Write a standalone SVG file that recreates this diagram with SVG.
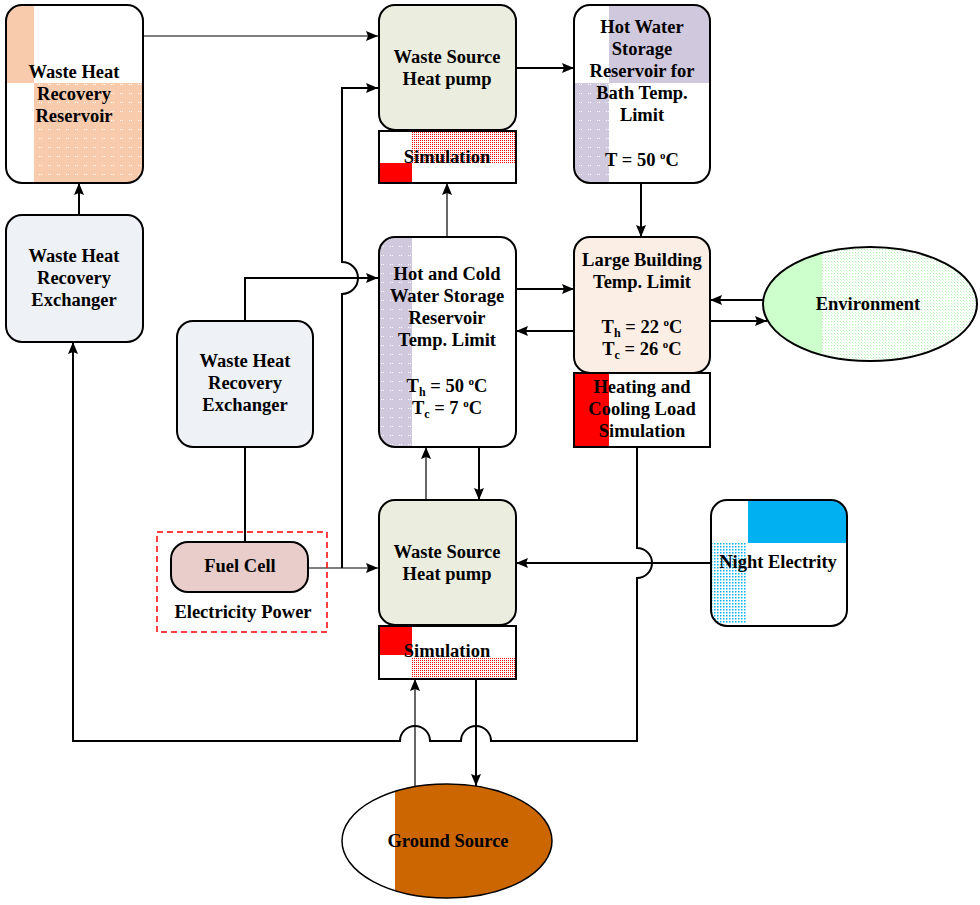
<svg xmlns="http://www.w3.org/2000/svg" width="980" height="905" viewBox="0 0 980 905">
<style>
text{font-family:"Liberation Serif","Times New Roman",serif;font-weight:bold;font-size:18.5px;fill:#000;text-anchor:middle}
.box{fill:none;stroke:#000;stroke-width:2}
.c{fill:none;stroke:#000;stroke-width:2}
.t{fill:none;stroke:#000;stroke-width:1.2}
</style>
<defs>
<marker id="ah" markerUnits="userSpaceOnUse" markerWidth="12" markerHeight="10" refX="12" refY="5" orient="auto"><path d="M0,0 L12,5 L0,10 L2,5 z" fill="#000"/></marker>
<pattern id="pdot" width="9" height="9" patternUnits="userSpaceOnUse"><rect width="9" height="9" fill="#F8CBAD"/><rect x="3" y="3" width="1" height="1" fill="#fff"/><rect x="5" y="3" width="1" height="1" fill="#fff"/></pattern>
<pattern id="ldot" width="9" height="9" patternUnits="userSpaceOnUse"><rect width="9" height="9" fill="#D0C8DC"/><rect x="3" y="3" width="1" height="1" fill="#fff"/><rect x="5" y="3" width="1" height="1" fill="#fff"/></pattern>
<pattern id="rdot" width="2" height="2" patternUnits="userSpaceOnUse"><rect width="2" height="2" fill="#fff"/><rect width="1" height="1" fill="#F00"/></pattern>
<pattern id="gdot" width="3" height="3" patternUnits="userSpaceOnUse"><rect width="3" height="3" fill="#fff"/><rect width="1" height="1" fill="#B8F0B8"/><rect x="1" y="1" width="1" height="1" fill="#D8FFD8"/></pattern>
<pattern id="bdot" width="3" height="3" patternUnits="userSpaceOnUse"><rect width="3" height="3" fill="#fff"/><rect width="1.5" height="1.5" fill="#00B0F0"/></pattern>
<clipPath id="cl1"><rect x="6" y="5" width="137" height="178" rx="16"/></clipPath>
<clipPath id="cl2"><rect x="574" y="5" width="136" height="178" rx="16"/></clipPath>
<clipPath id="cl3"><rect x="379" y="237" width="137" height="210" rx="16"/></clipPath>
<clipPath id="cl4"><rect x="711" y="500" width="136" height="126" rx="16"/></clipPath>
<clipPath id="cl5"><ellipse cx="870" cy="304" rx="107" ry="57"/></clipPath>
<clipPath id="cl6"><ellipse cx="447" cy="841" rx="105" ry="57"/></clipPath>
</defs>

<g id="connectors">
<path class="t" d="M143,36 H378" marker-end="url(#ah)"/>
<path class="c" d="M342,568 V294 A16,16 0 0 0 342,262 V88 H378" marker-end="url(#ah)"/>
<path class="c" d="M516,68 H574" marker-end="url(#ah)"/>
<path class="c" d="M641,183 V237" marker-end="url(#ah)"/>
<path class="t" d="M447,237 V183" marker-end="url(#ah)"/>
<path class="c" d="M245,321 V278 H378" marker-end="url(#ah)"/>
<path class="c" d="M245,542 V447"/>
<path class="t" d="M308,568 H378" marker-end="url(#ah)"/>
<path class="c" d="M516,289 H574" marker-end="url(#ah)"/>
<path class="c" d="M574,331 H516" marker-end="url(#ah)"/>
<path class="c" d="M763,300 H710" marker-end="url(#ah)"/>
<path class="c" d="M710,321 H767" marker-end="url(#ah)"/>
<path class="t" d="M426,500 V447" marker-end="url(#ah)"/>
<path class="c" d="M479,447 V500" marker-end="url(#ah)"/>
<path class="c" d="M711,563 H516" marker-end="url(#ah)"/>
<path class="c" d="M637,447 V548 A15,15 0 0 1 637,578 V741 H491 A15,15 0 0 0 461,741 H430 A15,15 0 0 0 400,741 H73 V342" marker-end="url(#ah)"/>
<path class="t" d="M415,787 V679" marker-end="url(#ah)"/>
<path class="c" d="M476,679 V786" marker-end="url(#ah)"/>
<path class="c" d="M79,215 V183" marker-end="url(#ah)"/>
</g>

<g id="reservoir">
<g clip-path="url(#cl1)">
<rect x="6" y="5" width="137" height="178" fill="#fff"/>
<rect x="6" y="5" width="28" height="78" fill="#F8CBAD"/>
<rect x="34" y="83" width="109" height="100" fill="url(#pdot)"/>
</g>
<rect class="box" x="6" y="5" width="137" height="178" rx="16"/>
<text x="74" y="78">Waste Heat</text>
<text x="74" y="100">Recovery</text>
<text x="74" y="122">Reservoir</text>
</g>

<g id="heatpump-top">
<rect x="379" y="5" width="137" height="125" rx="16" fill="#EBEEDE" stroke="#000" stroke-width="2"/>
<text x="447" y="63">Waste Source</text>
<text x="447" y="85">Heat pump</text>
</g>

<g id="sim-top">
<rect x="379" y="131" width="137" height="52" fill="#fff"/>
<rect x="412" y="131" width="104" height="32" fill="url(#rdot)"/>
<rect x="379" y="163" width="33" height="20" fill="#F00"/>
<rect class="box" x="379" y="131" width="137" height="52"/>
<text x="447" y="163">Simulation</text>
</g>

<g id="hotwater">
<g clip-path="url(#cl2)">
<rect x="574" y="5" width="136" height="178" fill="#fff"/>
<rect x="609" y="5" width="101" height="78" fill="#D0C8DC"/>
<rect x="574" y="83" width="35" height="100" fill="url(#ldot)"/>
</g>
<rect class="box" x="574" y="5" width="136" height="178" rx="16"/>
<text x="642" y="33">Hot Water</text>
<text x="642" y="55">Storage</text>
<text x="642" y="77">Reservoir for</text>
<text x="642" y="99">Bath Temp.</text>
<text x="642" y="121">Limit</text>
<text x="642" y="166">T = 50 <tspan font-size="11" dy="-7">o</tspan><tspan dy="7">C</tspan></text>
</g>

<g id="exchanger-left">
<rect x="6" y="215" width="137" height="127" rx="16" fill="#EEF1F6" stroke="#000" stroke-width="2"/>
<text x="74" y="262">Waste Heat</text>
<text x="74" y="284">Recovery</text>
<text x="74" y="306">Exchanger</text>
</g>

<g id="exchanger-mid">
<rect x="177" y="321" width="136" height="126" rx="16" fill="#EEF1F6" stroke="#000" stroke-width="2"/>
<text x="245" y="367">Waste Heat</text>
<text x="245" y="389">Recovery</text>
<text x="245" y="411">Exchanger</text>
</g>

<g id="hotcold">
<g clip-path="url(#cl3)">
<rect x="379" y="237" width="137" height="210" fill="#fff"/>
<rect x="379" y="237" width="33" height="210" fill="url(#ldot)"/>
</g>
<rect class="box" x="379" y="237" width="137" height="210" rx="16"/>
<text x="447" y="280">Hot and Cold</text>
<text x="447" y="302">Water Storage</text>
<text x="447" y="324">Reservoir</text>
<text x="447" y="346">Temp. Limit</text>
<text x="447" y="392">T<tspan font-size="12" dy="4">h</tspan><tspan dy="-4"> = 50 </tspan><tspan font-size="11" dy="-7">o</tspan><tspan dy="7">C</tspan></text>
<text x="447" y="414">T<tspan font-size="12" dy="4">c</tspan><tspan dy="-4"> = 7 </tspan><tspan font-size="11" dy="-7">o</tspan><tspan dy="7">C</tspan></text>
</g>

<g id="building">
<rect x="574" y="237" width="136" height="136" rx="16" fill="#FBEEE4" stroke="#000" stroke-width="2"/>
<text x="642" y="266">Large Building</text>
<text x="642" y="288">Temp. Limit</text>
<text x="642" y="333">T<tspan font-size="12" dy="4">h</tspan><tspan dy="-4"> = 22 </tspan><tspan font-size="11" dy="-7">o</tspan><tspan dy="7">C</tspan></text>
<text x="642" y="355">T<tspan font-size="12" dy="4">c</tspan><tspan dy="-4"> = 26 </tspan><tspan font-size="11" dy="-7">o</tspan><tspan dy="7">C</tspan></text>
</g>

<g id="load-sim">
<rect x="574" y="373" width="136" height="74" fill="#fff"/>
<rect x="574" y="373" width="35" height="74" fill="#F00"/>
<rect class="box" x="574" y="373" width="136" height="74"/>
<text x="642" y="393">Heating and</text>
<text x="642" y="415">Cooling Load</text>
<text x="642" y="437">Simulation</text>
</g>

<g id="environment">
<g clip-path="url(#cl5)">
<rect x="763" y="247" width="214" height="114" fill="url(#gdot)"/>
<rect x="763" y="247" width="59" height="114" fill="#CCFFCC"/>
</g>
<ellipse class="box" cx="870" cy="304" rx="107" ry="57"/>
<text x="868" y="310">Environment</text>
</g>

<g id="fuelcell">
<rect x="157" y="532" width="170" height="100" fill="none" stroke="#F00" stroke-width="1.5" stroke-dasharray="6,4"/>
<rect x="171" y="542" width="137" height="50" rx="17" fill="#E8CDCB" stroke="#000" stroke-width="2"/>
<text x="240" y="572">Fuel Cell</text>
<text x="243" y="618">Electricity Power</text>
</g>

<g id="heatpump-bottom">
<rect x="379" y="500" width="137" height="125" rx="16" fill="#EBEEDE" stroke="#000" stroke-width="2"/>
<text x="447" y="558">Waste Source</text>
<text x="447" y="580">Heat pump</text>
</g>

<g id="sim-bottom">
<rect x="379" y="626" width="137" height="53" fill="#fff"/>
<rect x="379" y="626" width="33" height="29" fill="#F00"/>
<rect x="412" y="657" width="104" height="22" fill="url(#rdot)"/>
<rect class="box" x="379" y="626" width="137" height="53"/>
<text x="447" y="657">Simulation</text>
</g>

<g id="night">
<g clip-path="url(#cl4)">
<rect x="711" y="500" width="136" height="126" fill="#fff"/>
<rect x="748" y="500" width="99" height="43" fill="#00B0F0"/>
<rect x="711" y="543" width="35" height="80" fill="url(#bdot)"/>
</g>
<rect class="box" x="711" y="500" width="136" height="126" rx="16"/>
<text x="778" y="568">Night Electrity</text>
</g>

<g id="ground">
<g clip-path="url(#cl6)">
<rect x="342" y="784" width="210" height="114" fill="#fff"/>
<rect x="395" y="784" width="157" height="114" fill="#CC6600"/>
</g>
<ellipse cx="447" cy="841" rx="105" ry="57" fill="none" stroke="#000" stroke-width="1.5"/>
<text x="448" y="847">Ground Source</text>
</g>
</svg>
